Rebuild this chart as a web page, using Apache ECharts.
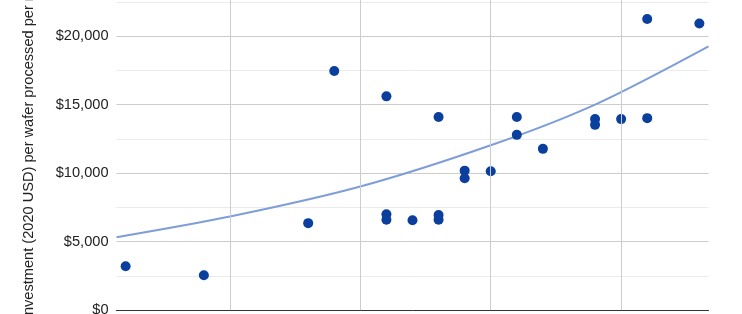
<!DOCTYPE html>
<html>
<head>
<meta charset="utf-8">
<script src="https://cdn.jsdelivr.net/npm/echarts@6/dist/echarts.min.js"></script>
<style>
html,body{margin:0;padding:0;background:#fff;}
#chart{width:742px;height:314px;}
</style>
</head>
<body>
<div id="chart"></div>
<script>
// Scatter points: year and investment (2020 USD) per wafer processed per month
const pointYears  = [2001, 2004, 2008, 2009, 2011, 2011, 2011, 2012, 2013, 2013, 2013, 2014, 2014, 2015, 2016, 2016, 2017, 2019, 2019, 2020, 2021, 2021, 2023];
const pointValues = [3200, 2550, 6350, 17450, 15600, 7000, 6600, 6560, 14100, 6950, 6600, 10180, 9630, 10140, 14100, 12790, 11770, 13940, 13520, 13940, 14010, 21240, 20920];

// Trendline (exponential)
const trendYears  = [2000.65, 2005, 2010, 2015, 2019, 2023.35];
const trendValues = [5320, 6830, 9020, 12030, 15000, 19250];

// Vertical gridline positions (x-axis major ticks)
const gridYears = [2005, 2010, 2015, 2020];
// Y-axis ticks
const yTicks = [0, 5000, 10000, 15000, 20000, 25000];

const yAxisTitle = 'Investment (2020 USD) per wafer processed per month';

const chart = echarts.init(document.getElementById('chart'), null, {renderer: 'canvas'});
const font = '"Liberation Sans", Arial, sans-serif';

chart.setOption({
  animation: false,
  backgroundColor: '#ffffff',
  grid: {left: 116.5, right: 33.5, top: -32.5, bottom: 3.8, containLabel: false, outerBoundsMode: 'none'},
  xAxis: {
    type: 'value',
    min: 2000.65,
    max: 2023.35,
    axisLine: {show: true, lineStyle: {color: '#333333', width: 1}},
    axisTick: {show: false},
    axisLabel: {show: false},
    splitLine: {show: false}
  },
  yAxis: {
    type: 'value',
    min: yTicks[0],
    max: yTicks[yTicks.length - 1],
    interval: yTicks[1] - yTicks[0],
    axisLine: {show: false},
    axisTick: {show: false},
    axisLabel: {
      color: '#222222', fontSize: 14.6, fontFamily: font, margin: 8,
      formatter: v => '$' + v.toLocaleString('en-US')
    },
    splitLine: {show: true, lineStyle: {color: '#cccccc', width: 1}},
    minorTick: {show: false, splitNumber: 2},
    minorSplitLine: {show: true, lineStyle: {color: '#ebebeb', width: 1}},
    name: yAxisTitle,
    nameLocation: 'middle',
    nameGap: 80,
    nameTextStyle: {color: '#222222', fontSize: 14.6, fontFamily: font, padding: [0, 2, 0, 0]}
  },
  series: [
    {
      type: 'line',
      data: [],
      silent: true,
      markLine: {
        silent: true,
        symbol: ['none', 'none'],
        label: {show: false},
        lineStyle: {color: '#cccccc', width: 1, type: 'solid'},
        data: gridYears.map(y => ({xAxis: y}))
      }
    },
    {
      type: 'line',
      data: trendYears.map((y, i) => [y, trendValues[i]]),
      smooth: 0.3,
      showSymbol: false,
      lineStyle: {color: '#7f9dd8', width: 2},
      z: 3
    },
    {
      type: 'scatter',
      data: pointYears.map((y, i) => [y, pointValues[i]]),
      symbolSize: 10,
      itemStyle: {color: '#0b3f9e', opacity: 1},
      z: 4
    }
  ]
});
</script>
</body>
</html>
